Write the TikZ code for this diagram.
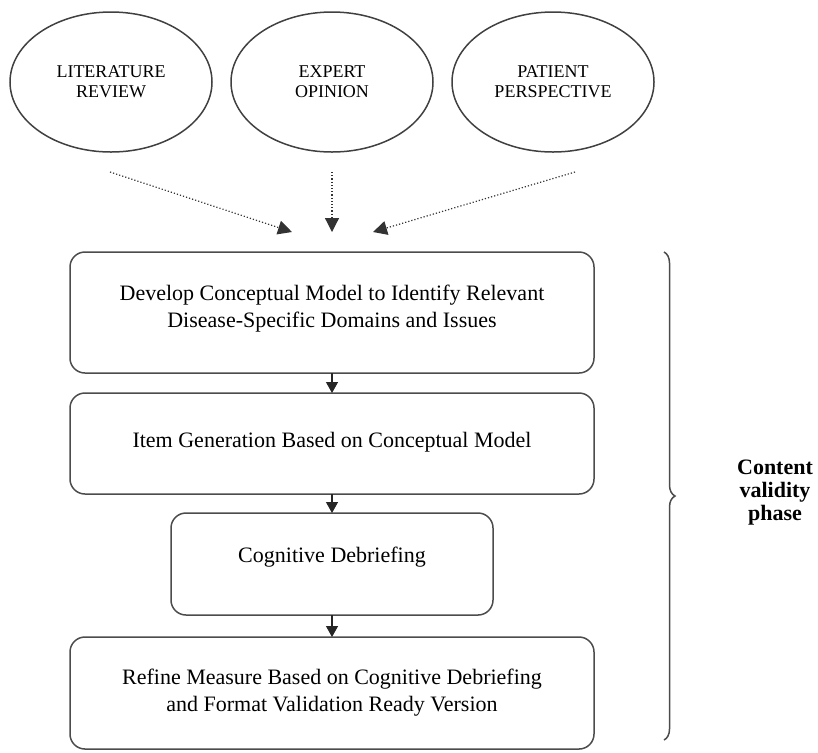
\documentclass[tikz,border=0pt]{standalone}
\usepackage{fontspec}
\setmainfont{Liberation Serif}
\usetikzlibrary{positioning,arrows.meta,calc,shapes.geometric,decorations.pathreplacing}
\tikzset{
  src/.style={ellipse,draw=black!75,line width=0.75pt,minimum width=101pt,minimum height=70pt,
    align=center,font=\fontsize{9}{10}\selectfont,inner sep=0pt,outer sep=0pt},
  stepbox/.style={rectangle,rounded corners=7.5pt,draw=black!70,line width=0.75pt,align=center,
    font=\fontsize{11}{13.5}\selectfont,inner sep=0pt,outer sep=0pt,minimum width=262pt},
  feed/.style={-{Triangle[length=7pt,width=7pt]},densely dotted,line width=0.6pt,black!80}, % source arrows
  flow/.style={-{Triangle[length=5.5pt,width=6pt]},line width=0.6pt,black!85},
  brc/.style={decorate,decoration={brace,amplitude=5.5pt},line width=0.75pt,black!70},
}
\begin{document}
\begin{tikzpicture}[x=0.5pt,y=-0.5pt]
  \useasboundingbox (0,0) rectangle (818,752);
  % the three sources
  \node[src] (lit) at (111,82) {LITERATURE\\REVIEW};
  \node[src] (exp) at (332,82) {EXPERT\\OPINION};
  \node[src] (pat) at (553,82) {PATIENT\\PERSPECTIVE};
  % the steps
  \node[stepbox,minimum height=60.5pt,text depth=6.5pt] (dev) at (332,312.5)
    {Develop Conceptual Model to Identify Relevant\\Disease-Specific Domains and Issues};
  \node[stepbox,minimum height=50.5pt,text depth=4pt] (gen) at (332,443.5)
    {Item Generation Based on Conceptual Model};
  \node[stepbox,minimum width=161pt,minimum height=51pt,text depth=9pt] (cog) at (332,564)
    {Cognitive Debriefing};
  \node[stepbox,minimum height=56pt] (rfn) at (332,693)
    {Refine Measure Based on Cognitive Debriefing\\and Format Validation Ready Version};
  % dotted feeds, ending just above the first step
  \coordinate (outL) at (110,172);
  \coordinate (outM) at (332,172);
  \coordinate (outR) at (575,172);
  \coordinate (inL) at (292,232);
  \coordinate (inM) at (332,232);
  \coordinate (inR) at (373,232);
  \draw[feed] (outL) -- (inL);
  \draw[feed] (outM) -- (inM);
  \draw[feed] (outR) -- (inR);
  % step to step
  \draw[flow] (dev) -- (gen);
  \draw[flow] (gen) -- (cog);
  \draw[flow] (cog) -- (rfn);
  % phase brace
  \coordinate (btop) at (664,252);
  \coordinate (bbot) at (664,740);
  \draw[brc] (btop) -- (bbot);
  \node[font=\fontsize{11}{11.5}\selectfont\bfseries,align=center] (phase) at (775,493)
    {Content\\validity\\phase};
\end{tikzpicture}
\end{document}
